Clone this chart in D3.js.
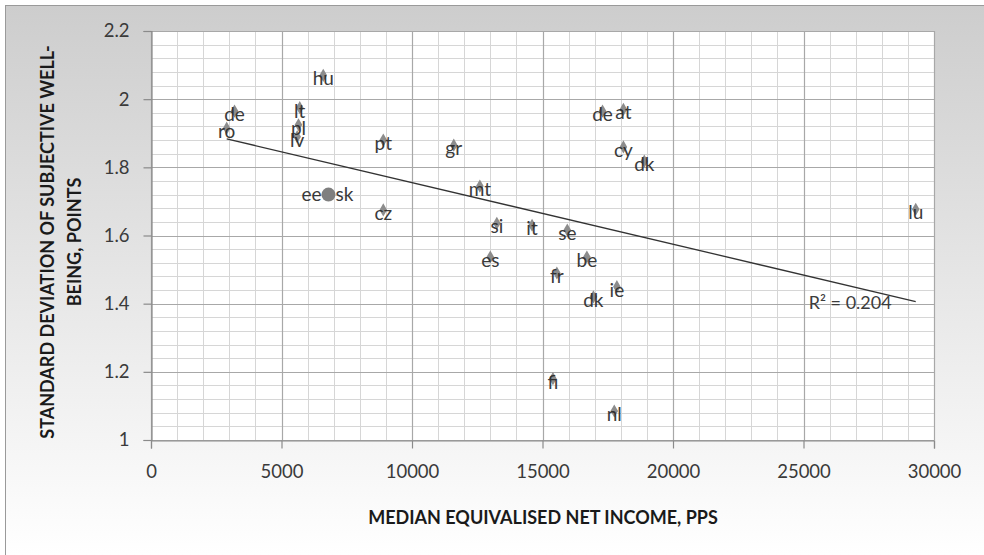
<!DOCTYPE html>
<html><head><meta charset="utf-8">
<script src="https://cdn.jsdelivr.net/npm/d3@7/dist/d3.min.js"></script>
<style>
html,body{margin:0;padding:0;background:#fff;}
svg text{font-family:Lato,"Open Sans",sans-serif;}
</style></head>
<body><svg id="chart" width="984" height="555"></svg>
<script>
// ---- data ----
const countries = ["ro","de","hu","lt","pl","lv","pt","ee","sk","cz","gr","mt","si","it","se","es","be","fr","ie","dk","fi","nl","de","at","cy","dk","lu"];
const income    = [2900,3200,6600,5700,5650,5600,8900,6800,6800,8900,11600,12600,13250,14600,15950,13000,16700,15550,17850,16950,15400,17750,17300,18100,18100,18900,29300];
const sdWellbeing = [1.915,1.965,2.07,1.975,1.925,1.89,1.88,1.72,1.72,1.675,1.865,1.745,1.636,1.63,1.616,1.537,1.537,1.49,1.45,1.42,1.18,1.085,1.965,1.97,1.86,1.818,1.677];
const trendIntercept = 1.936;
const trendSlope = -1.808e-5;
const rSquaredLabel = "R² = 0.204";
const xTicks = [0,5000,10000,15000,20000,25000,30000];
const yTicks = [1,1.2,1.4,1.6,1.8,2,2.2];
const xTitle = "MEDIAN EQUIVALISED NET INCOME, PPS";
const yTitleLines = ["STANDARD DEVIATION OF SUBJECTIVE WELL-","BEING, POINTS"];

const W = 984, H = 555;
const m = {left:151, top:31, right:50, bottom:115};
const svg = d3.select("#chart");

// background
const defs = svg.append("defs");
const g = defs.append("linearGradient").attr("id","bg").attr("x1",0).attr("y1",0).attr("x2",0).attr("y2",1);
g.append("stop").attr("offset","0%").attr("stop-color","#cdcdcd");
g.append("stop").attr("offset","100%").attr("stop-color","#ffffff");
svg.append("rect").attr("x",0).attr("y",0).attr("width",W).attr("height",H).attr("fill","#fff");
svg.append("rect").attr("x",5.5).attr("y",5.5).attr("width",W-5).attr("height",H-5)
  .attr("fill","url(#bg)").attr("stroke","#9a9a9a").attr("stroke-width",1);

const x = d3.scaleLinear().domain([0,30000]).range([m.left, W-m.right]);
const y = d3.scaleLinear().domain([1,2.2]).range([H-m.bottom, m.top]);

// plot area
svg.append("rect").attr("x",x(0)).attr("y",y(2.2)).attr("width",x(30000)-x(0)).attr("height",y(1)-y(2.2)).attr("fill","#fff");

// minor grid
const xMinor = d3.range(0,30001,1000).filter(v=>v%5000!==0);
const yMinor = d3.range(0,31).map(i=>1+i*0.04).filter(v=>Math.abs(Math.round(v*5)-v*5)>1e-6);
const grid = svg.append("g");
grid.selectAll(".xm").data(xMinor).join("line")
  .attr("x1",d=>Math.round(x(d))+0.5).attr("x2",d=>Math.round(x(d))+0.5)
  .attr("y1",y(2.2)).attr("y2",y(1)).attr("stroke","#d6d6d6").attr("stroke-width",1);
grid.selectAll(".ym").data(yMinor).join("line")
  .attr("y1",d=>Math.round(y(d))+0.5).attr("y2",d=>Math.round(y(d))+0.5)
  .attr("x1",x(0)).attr("x2",x(30000)).attr("stroke","#d6d6d6").attr("stroke-width",1);
// major grid
grid.selectAll(".xM").data(xTicks).join("line")
  .attr("x1",d=>Math.round(x(d))+0.5).attr("x2",d=>Math.round(x(d))+0.5)
  .attr("y1",y(2.2)).attr("y2",y(1)).attr("stroke","#a8a8a8").attr("stroke-width",1.2);
grid.selectAll(".yM").data(yTicks).join("line")
  .attr("y1",d=>Math.round(y(d))+0.5).attr("y2",d=>Math.round(y(d))+0.5)
  .attr("x1",x(0)).attr("x2",x(30000)).attr("stroke","#a8a8a8").attr("stroke-width",1.2);

// axes
const xAxis = svg.append("g").attr("transform",`translate(0,${Math.round(y(1))+0.5})`)
  .call(d3.axisBottom(x).tickValues(xTicks).tickFormat(d3.format("d")).tickSize(8).tickPadding(16));
const yAxis = svg.append("g").attr("transform",`translate(${Math.round(x(0))+0.5},0)`)
  .call(d3.axisLeft(y).tickValues(yTicks).tickFormat(d=>String(+d.toFixed(1))).tickSize(8).tickPadding(14));
[xAxis,yAxis].forEach(a=>{
  a.select(".domain").attr("stroke","#8a8a8a").attr("stroke-width",1.2);
  a.selectAll(".tick line").attr("stroke","#8a8a8a").attr("stroke-width",1.2);
  a.selectAll(".tick text").attr("fill","#3a3a3a").style("font-size","18.5px").style("font-family","Lato,sans-serif");
});

// trend line
const xmin = d3.min(income), xmax = d3.max(income);
svg.append("line")
  .attr("x1",x(xmin)).attr("y1",y(trendIntercept+trendSlope*xmin))
  .attr("x2",x(xmax)).attr("y2",y(trendIntercept+trendSlope*xmax))
  .attr("stroke","#333").attr("stroke-width",1.3);
svg.append("text").attr("x",x(25200)).attr("y",y(1.4)-1).attr("dy","0.35em")
  .attr("fill","#3c3c3c").style("font-size","18px").text(rSquaredLabel);

// points
const data = countries.map((c,i)=>({c, x:income[i], y:sdWellbeing[i]}));
const special = new Set(["ee","sk"]);
const pts = svg.append("g");
pts.selectAll("path").data(data.filter(d=>!special.has(d.c))).join("path")
  .attr("d", d3.symbol(d3.symbolDiamond, 50))
  .attr("transform", d=>`translate(${x(d.x)},${y(d.y)})`)
  .attr("fill","#8c8c8c");
const eesk = data.filter(d=>special.has(d.c));
pts.append("circle").attr("cx",x(eesk[0].x)).attr("cy",y(eesk[0].y)).attr("r",7).attr("fill","#7f7f7f");

// labels
const labels = svg.append("g").attr("fill","#2a2a2a").style("font-size","19px");
labels.selectAll("text").data(data).join("text")
  .attr("x", d=> d.c==="ee" ? x(d.x)-7 : d.c==="sk" ? x(d.x)+7 : x(d.x))
  .attr("y", d=> d.c==="ee"||d.c==="sk" ? y(d.y) : y(d.y)+4)
  .attr("dy","0.32em")
  .attr("text-anchor", d=> d.c==="ee" ? "end" : d.c==="sk" ? "start" : "middle")
  .attr("opacity",0.92)
  .text(d=>d.c);

// axis titles
svg.append("text").attr("x",543).attr("y",518).attr("dy","0.35em").attr("text-anchor","middle")
  .attr("fill","#1a1a1a").style("font-size","18px").style("font-weight","bold").text(xTitle);
const yt = svg.append("text").attr("transform","translate(48,242) rotate(-90)").attr("text-anchor","middle")
  .attr("fill","#1a1a1a").style("font-size","18px").style("font-weight","bold");
yTitleLines.forEach((t,i)=>yt.append("tspan").attr("x",0).attr("y",i*27).attr("dy","0.35em").text(t));
</script></body></html>
